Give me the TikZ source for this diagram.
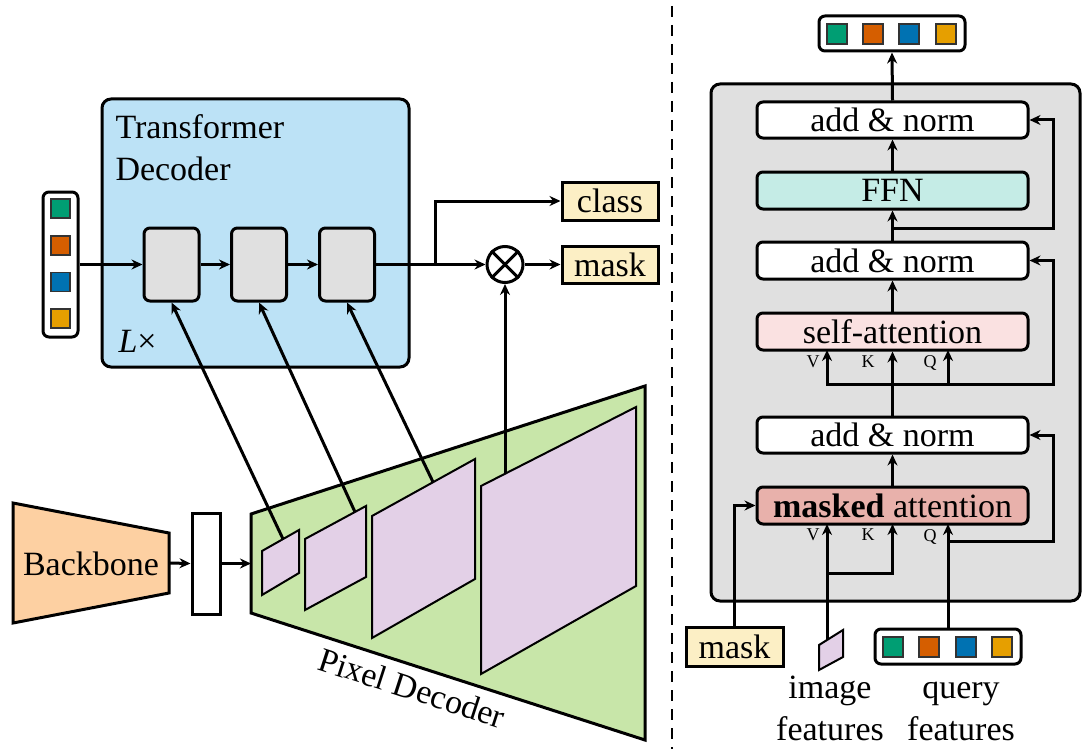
\documentclass[tikz,border=0pt]{standalone}
\usepackage{fontspec}
\setmainfont{Liberation Serif}
\usetikzlibrary{arrows.meta,calc}
\definecolor{tdblue}{HTML}{BCE2F6}
\definecolor{blockgray}{HTML}{E0E0E0}
\definecolor{outyellow}{HTML}{FCEFC5}
\definecolor{sqgreen}{HTML}{009E73}
\definecolor{sqorange}{HTML}{D55E00}
\definecolor{sqblue}{HTML}{0072B2}
\definecolor{sqyellow}{HTML}{E69F00}
\definecolor{bbpeach}{HTML}{FDD0A2}
\definecolor{pdgreen}{HTML}{C8E6A9}
\definecolor{fmlav}{HTML}{E3D0E7}
\definecolor{ffnteal}{HTML}{C5ECE6}
\definecolor{sapink}{HTML}{FAE1E1}
\definecolor{mared}{HTML}{E8B1AB}
\begin{document}
\begin{tikzpicture}[x=1pt,y=-1pt,line width=3pt,
  >={Stealth[length=11pt,width=10pt]},
  every node/.style={font=\fontsize{34}{40}\selectfont},
  rbox/.style={draw,rounded corners=6pt,inner sep=0pt},
  sbox/.style={draw,inner sep=0pt},
  sq/.style={draw=black!80,line width=1.2pt,minimum size=19pt,inner sep=0pt},
  fmap/.style={draw,fill=fmlav,line width=2pt},
  qkv/.style={font=\fontsize{18}{20}\selectfont,inner sep=0pt}
]
\useasboundingbox (0,0) rectangle (1083,749);

% ---------------- left: transformer decoder
\node[rbox,fill=tdblue,minimum width=307pt,minimum height=268pt,rounded corners=9pt] (td) at (255.5,233) {};
\node[anchor=base west,inner sep=0pt] (tdl1) at (114,139) {Transformer};
\node[anchor=base west,inner sep=0pt] (tdl2) at (114,180) {Decoder};
\node[anchor=base west,inner sep=0pt] (lx) at (117,352) {{\itshape L}×};

\node[rbox,fill=white,minimum width=35pt,minimum height=145pt] (qv) at (60.5,264.5) {};
\node[sq,fill=sqgreen] (qv1) at (60.5,208.5) {};
\node[sq,fill=sqorange] (qv2) at (60.5,245.5) {};
\node[sq,fill=sqblue] (qv3) at (60.5,282) {};
\node[sq,fill=sqyellow] (qv4) at (60.5,318.5) {};

\node[rbox,fill=blockgray,minimum width=55pt,minimum height=73pt] (b1) at (171.5,264.5) {};
\node[rbox,fill=blockgray,minimum width=55pt,minimum height=73pt] (b2) at (259,264.5) {};
\node[rbox,fill=blockgray,minimum width=55pt,minimum height=73pt] (b3) at (347,264.5) {};

\draw[->] (qv.east) -- (b1.west);
\draw[->] (b1.east) -- (b2.west);
\draw[->] (b2.east) -- (b3.west);

\coordinate (jc) at (435,264.5);
\node[circle,draw,minimum size=36pt,inner sep=0pt,fill=white] (ot) at (505,264.5) {};
\draw (ot.north west) -- (ot.south east);
\draw (ot.north east) -- (ot.south west);
\draw[->] (b3.east) -- (ot.west);

\node[sbox,fill=outyellow,minimum width=96pt,minimum height=38pt] (cls) at (610,201) {class};
\node[sbox,fill=outyellow,minimum width=96pt,minimum height=37pt] (msk) at (610,264.5) {mask};
\draw[->] (jc) |- (cls.west);
\draw[->] (ot.east) -- (msk.west);

% ---------------- backbone and pixel decoder
\draw[fill=bbpeach] (13,503) -- (169,533) -- (169,593) -- (13,623) -- cycle;
\node[anchor=base,inner sep=0pt] (bbt) at (91,575) {Backbone};
\coordinate (bbr) at (169,563);
\node[sbox,fill=white,minimum width=28pt,minimum height=101pt] (nr) at (206,563.5) {};
\coordinate (pdl) at (251,563.5);
\draw[->] (bbr) -- (nr.west);
\draw[->] (nr.east) -- (pdl);

\draw[fill=pdgreen] (251,514) -- (645,386) -- (645,740) -- (251,613) -- cycle;
\draw[fmap] (262,551) -- (299,530) -- (299,573) -- (262,595) -- cycle;
\draw[fmap] (305,539) -- (366,506) -- (366,577) -- (305,610) -- cycle;
\draw[fmap] (372,516) -- (475,459) -- (475,579) -- (372,638) -- cycle;
\draw[fmap] (481,486) -- (636,407) -- (636,586) -- (481,674) -- cycle;
\node[rotate=-18,inner sep=0pt] (pdt) at (412,688) {Pixel Decoder};

\coordinate (f1t) at (283,539);
\coordinate (f2t) at (355,512);
\coordinate (f3t) at (433,482);
\coordinate (f4t) at (505,474);
\draw[->] (f1t) -- (b1.south);
\draw[->] (f2t) -- (b2.south);
\draw[->] (f3t) -- (b3.south);
\draw[->] (f4t) -- (ot.south);

% ---------------- separator
\draw[dash pattern=on 11pt off 8pt,line width=2.6pt] (672,6) -- (672,749);

% ---------------- right panel
\node[rbox,fill=blockgray,minimum width=369pt,minimum height=517pt,rounded corners=9pt] (gb) at (895.5,342.5) {};

\node[rbox,fill=white,minimum width=146pt,minimum height=35pt] (ov) at (892,33.5) {};
\node[sq,fill=sqgreen,minimum size=20pt] (ov1) at (837,34) {};
\node[sq,fill=sqorange,minimum size=20pt] (ov2) at (873,34) {};
\node[sq,fill=sqblue,minimum size=20pt] (ov3) at (909,34) {};
\node[sq,fill=sqyellow,minimum size=20pt] (ov4) at (946,34) {};

\node[rbox,fill=white,minimum width=271pt,minimum height=36pt] (an1) at (892.5,120) {add \& norm};
\node[rbox,fill=ffnteal,minimum width=271pt,minimum height=37pt] (ffn) at (892.5,190.5) {FFN};
\node[rbox,fill=white,minimum width=271pt,minimum height=37pt] (an2) at (892.5,260.5) {add \& norm};
\node[rbox,fill=sapink,minimum width=271pt,minimum height=37pt] (sa) at (892.5,331.5) {self-attention};
\node[rbox,fill=white,minimum width=271pt,minimum height=36pt] (an3) at (892.5,435) {add \& norm};
\node[rbox,fill=mared,minimum width=271pt,minimum height=37pt] (ma) at (892.5,505.5) {\textbf{masked} attention};

\draw[->] (an1.north) -- (ov.south);
\draw[->] (ffn.north) -- (an1.south);
\draw[->] (an2.north) -- (ffn.south);
\coordinate (j2) at (892.5,228);
\coordinate (r1) at (1053,228);
\draw[->] (j2) -- (r1) |- (an1.east);
\draw[->] (sa.north) -- (an2.south);

\coordinate (j3) at (892.5,384);
\coordinate (saV) at (827,350);
\coordinate (saQ) at (948,350);
\coordinate (r2) at (1053,384);
\draw (an3.north) -- (j3);
\draw[->] (j3) -- (sa.south);
\draw[->] (j3) -| (saV);
\draw[->] (j3) -| (saQ);
\draw[->] (j3) -- (r2) |- (an2.east);
\draw[->] (ma.north) -- (an3.south);

\node[qkv] (lv1) at (813,362) {V};
\node[qkv] (lk1) at (868,362) {K};
\node[qkv] (lq1) at (930,363) {Q};
\node[qkv] (lv2) at (813,535) {V};
\node[qkv] (lk2) at (868,535) {K};
\node[qkv] (lq2) at (930,537) {Q};

% inputs
\draw[fmap] (819,645) -- (843,630) -- (843,657) -- (819,670) -- cycle;
\coordinate (imt) at (827,640);
\coordinate (jv) at (827,573);
\coordinate (maV) at (827,524);
\coordinate (maK) at (892.5,524);
\coordinate (maQ) at (948,524);
\draw[->] (imt) -- (maV);
\draw[->] (jv) -| (maK);

\node[rbox,fill=white,minimum width=146pt,minimum height=35pt] (qf) at (948,646.5) {};
\node[sq,fill=sqgreen,minimum size=20pt] (qf1) at (893,647) {};
\node[sq,fill=sqorange,minimum size=20pt] (qf2) at (929,647) {};
\node[sq,fill=sqblue,minimum size=20pt] (qf3) at (966,647) {};
\node[sq,fill=sqyellow,minimum size=20pt] (qf4) at (1002,647) {};
\draw[->] (qf.north) -- (maQ);
\coordinate (jq) at (948,541);
\coordinate (r3) at (1053,541);
\draw[->] (jq) -- (r3) |- (an3.east);

\node[sbox,fill=outyellow,minimum width=97pt,minimum height=39pt] (mask2) at (734.5,646.5) {mask};
\draw[->] (mask2.north) |- (ma.west);

\node[anchor=base,inner sep=0pt] (it1) at (830,698) {image};
\node[anchor=base,inner sep=0pt] (it2) at (830,740) {features};
\node[anchor=base,inner sep=0pt] (qt1) at (961,698) {query};
\node[anchor=base,inner sep=0pt] (qt2) at (961,740) {features};
\end{tikzpicture}
\end{document}
